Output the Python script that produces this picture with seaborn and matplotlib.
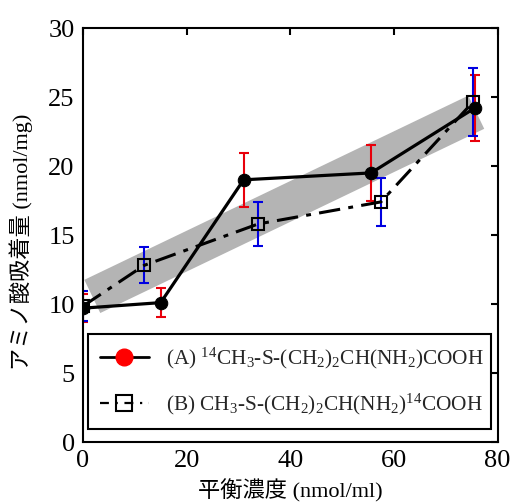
import numpy as np
import pandas as pd
import matplotlib
matplotlib.use("Agg")
import matplotlib.pyplot as plt
from matplotlib.lines import Line2D
import seaborn as sns

# ---- data ----
a_x = [0, 15, 31, 55.6, 75.6]
a_y = [9.7, 10.1, 19.0, 19.5, 24.2]
a_err = [1.0, 1.05, 1.95, 2.0, 2.4]

b_x = [0, 11.8, 33.8, 57.5, 75.3]
b_y = [9.85, 12.8, 15.8, 17.4, 24.65]
b_err = [1.1, 1.3, 1.6, 1.75, 2.45]

band_x = [1.8, 75.9]
band_y = [10.55, 23.9]

label_a = r"(A) $^{14}$CH$_3$-S-(CH$_2$)$_2$CH(NH$_2$)COOH"
label_b = r"(B) CH$_3$-S-(CH$_2$)$_2$CH(NH$_2$)$^{14}$COOH"
xlabel = "平衡濃度 (nmol/ml)"
ylabel = "アミノ酸吸着量 (nmol/mg)"
xticks = [0, 20, 40, 60, 80]
yticks = [0, 5, 10, 15, 20, 25, 30]

sns.set_theme(style="white")
plt.rcParams["font.family"] = ["Liberation Serif", "Noto Sans CJK JP"]
plt.rcParams["mathtext.fontset"] = "custom"
plt.rcParams["mathtext.rm"] = "Liberation Serif"
plt.rcParams["mathtext.it"] = "Liberation Serif"
plt.rcParams["mathtext.default"] = "regular"

fig = plt.figure(figsize=(5.11, 5.04), dpi=100)
ax = fig.add_axes([0.1624, 0.123, 0.8112, 0.8214])

# gray band
ax.plot(band_x, band_y, color="#b4b4b4", lw=26.5, solid_capstyle="butt", zorder=1)

# error bars
ax.errorbar(a_x, a_y, yerr=a_err, fmt="none", ecolor="#e8000b", elinewidth=1.5,
            capsize=3.5, capthick=1.5, zorder=2)
ax.errorbar(b_x, b_y, yerr=b_err, fmt="none", ecolor="#0000e0", elinewidth=1.5,
            capsize=3.5, capthick=1.5, zorder=2)

dfa = pd.DataFrame({"x": a_x, "y": a_y})
dfb = pd.DataFrame({"x": b_x, "y": b_y})
sns.lineplot(data=dfb, x="x", y="y", ax=ax, sort=False, color="black", lw=2.2,
             linestyle=(0, (7, 2.7, 1.6, 2.7)), marker="s", markersize=8.5,
             markerfacecolor="none", markeredgecolor="black", markeredgewidth=1.5,
             zorder=3)
sns.lineplot(data=dfa, x="x", y="y", ax=ax, sort=False, color="black", lw=2.3,
             marker="o", markersize=9, markerfacecolor="black",
             markeredgecolor="black", zorder=4)

ax.set_xlim(0, 80)
ax.set_ylim(0, 30)
ax.set_xticks(xticks)
ax.set_yticks(yticks)
ax.tick_params(direction="in", length=5, width=1.5, top=True, right=True,
               labelsize=19, pad=6, colors="black")
for s in ax.spines.values():
    s.set_visible(True)
    s.set_color("black")
    s.set_linewidth(1.5)
ax.set_xlabel(xlabel, fontsize=16, color="black", labelpad=5)
ax.set_ylabel(ylabel, fontsize=16, color="black")
ax.yaxis.set_label_coords(-0.12, 0.483)

handles = [
    Line2D([], [], color="black", lw=2.0, marker="o", markersize=12,
           markerfacecolor="#ff0000", markeredgecolor="#ff0000"),
    Line2D([], [], color="black", lw=1.6, linestyle=(0, (4, 3, 1, 3)), marker="s",
           markersize=11, markerfacecolor="none", markeredgecolor="black",
           markeredgewidth=1.5),
]
leg = ax.legend(handles, [label_a, label_b], loc="lower left",
                bbox_to_anchor=(0.012, 0.031, 0.972, 0.225), mode="expand",
                borderaxespad=0, fontsize=15.3, frameon=True, fancybox=False,
                edgecolor="black", handlelength=2.3, labelspacing=1.0,
                borderpad=0.55, handletextpad=0.8)
leg.get_frame().set_linewidth(1.5)
leg.get_frame().set_alpha(1)

fig.savefig("out.png", dpi=100)
